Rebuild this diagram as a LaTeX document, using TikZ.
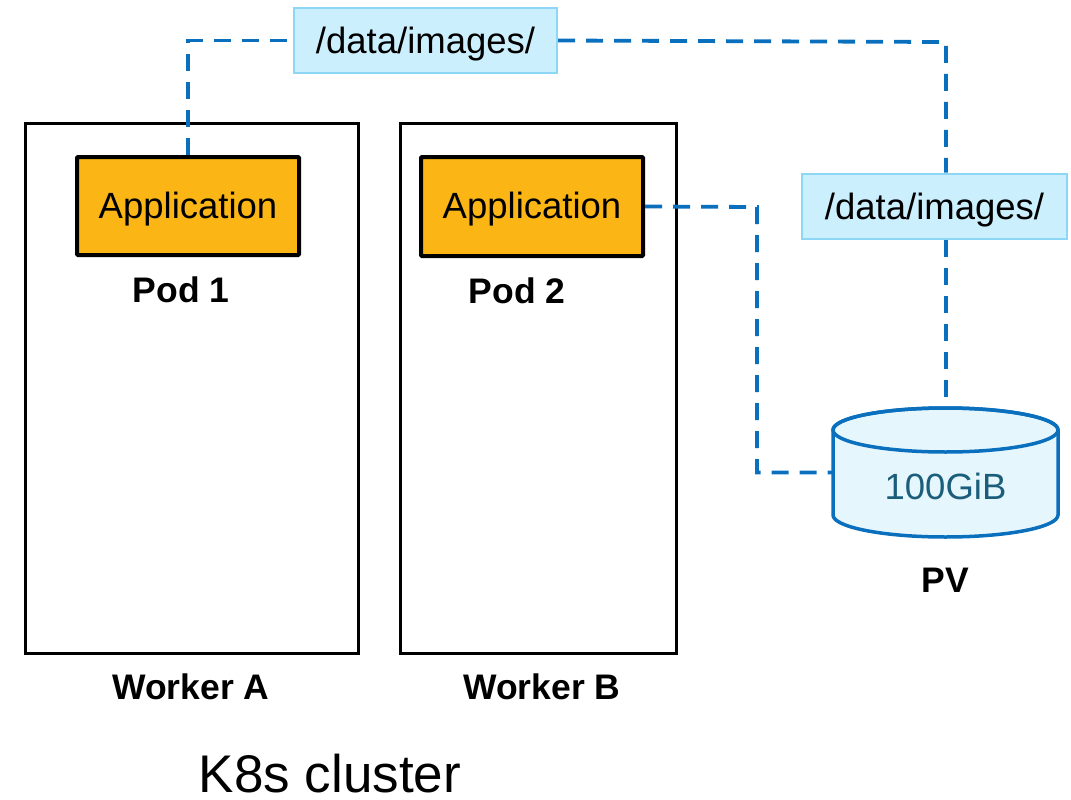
\documentclass[tikz,border=0pt]{standalone}
\usepackage{fontspec}
\setmainfont{Liberation Sans}
\definecolor{appfill}{HTML}{FBB615}
\definecolor{lblfill}{HTML}{CCEFFD}
\definecolor{lblborder}{HTML}{8ED6F6}
\definecolor{linkblue}{HTML}{0A70BE}
\definecolor{cylfill}{HTML}{E6F6FD}
\definecolor{cyltext}{HTML}{1B5E7C}
\tikzset{
  worker/.style={draw=black, line width=3pt, inner sep=0pt},
  appbox/.style={draw=black, fill=appfill, line width=4pt, inner sep=0pt, rounded corners=1pt},
  lblbox/.style={draw=lblborder, fill=lblfill, line width=2pt, inner sep=0pt},
  link/.style={draw=linkblue, line width=3.8pt, dash pattern=on 17pt off 11pt},
  normtext/.style={font=\fontsize{36.5}{40}\selectfont, inner sep=0pt, anchor=base},
  boldtext/.style={font=\fontsize{35.5}{40}\selectfont\bfseries, inner sep=0pt, anchor=base},
}
\begin{document}
\begin{tikzpicture}[x=1pt,y=-1pt]
\useasboundingbox (0,0) rectangle (1071,800);
% workers
\node[worker, minimum width=333pt, minimum height=530pt] (wa) at (191.5,388) {};
\node[worker, minimum width=276pt, minimum height=530pt] (wb) at (538,388) {};
% label boxes
\node[lblbox, minimum width=263pt, minimum height=65pt] (lbl1) at (425.5,40.5) {};
\node[normtext] at (425.5,54) {/data/images/};
\node[lblbox, minimum width=265pt, minimum height=65pt] (lbl2) at (934.5,206) {};
\node[normtext] at (934.5,219) {/data/images/};
% PV area node (invisible frame of cylinder)
\node[minimum width=225pt, minimum height=129pt, inner sep=0pt] (pv) at (945.5,472.5) {};
% routing coordinates
\coordinate (c1) at (946,42);
\coordinate (c2) at (757,207);
% app boxes
\node[appbox, minimum width=222pt, minimum height=98pt] (app1) at (188,206) {};
\node[normtext] at (188,218) {Application};
\node[appbox, minimum width=222pt, minimum height=99pt] (app2) at (532,206.5) {};
\node[normtext] at (532,218) {Application};
% dashed links
\draw[link] (app1.north) -- (app1.north |- lbl1.west) -- (lbl1.west);
\draw[link] (lbl1.east) -- (c1) -- (c1 |- lbl2.north);
\draw[link] (c1 |- lbl2.south) -- (c1 |- pv.north);
\draw[link] (app2.east) -- (c2) -- (c2 |- pv.west) -- (pv.west);
% cylinder
\draw[draw=linkblue, fill=cylfill, line width=3.5pt]
  (833,430) -- (833,515) arc[start angle=180, end angle=0, x radius=112.5, y radius=22]
  -- (1058,430) arc[start angle=0, end angle=-180, x radius=112.5, y radius=22] -- cycle;
\draw[draw=linkblue, line width=3.5pt] (945.5,430) ellipse[x radius=112.5, y radius=22];
\node[normtext, text=cyltext] at (945.5,499) {100GiB};
% labels
\node[boldtext] at (181,302) {Pod 1};
\node[boldtext] at (517,303) {Pod 2};
\node[boldtext] at (191,699) {Worker A};
\node[boldtext] at (542,699) {Worker B};
\node[boldtext] at (945,592) {PV};
\node[font=\fontsize{53}{60}\selectfont, inner sep=0pt, anchor=base] at (330,792) {K8s cluster};
\end{tikzpicture}
\end{document}
